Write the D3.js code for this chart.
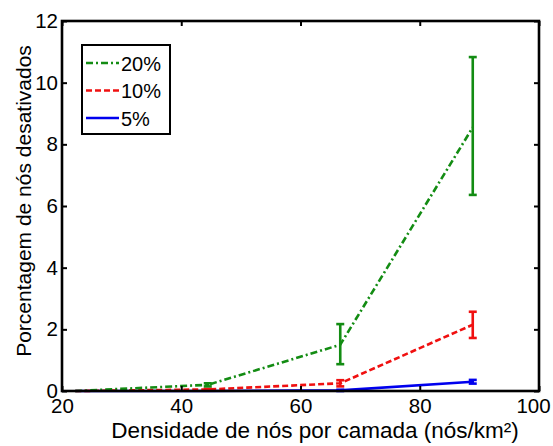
<!DOCTYPE html>
<html>
<head>
<meta charset="utf-8">
<script src="https://cdn.jsdelivr.net/npm/d3@7"></script>
<style>
  html, body { margin: 0; padding: 0; background: #fff; }
  svg text { font-family: Arial, "Liberation Sans", sans-serif; }
</style>
</head>
<body>
<svg id="chart" width="553" height="446"></svg>
<script>
// Node densities per layer (nodes/km²)
const densities = [200/9, 400/9, 600/9, 800/9];

// Share of deactivated nodes (%), mean with lower/upper bounds
const mean20 = [0.0, 0.2, 1.5, 8.55];
const low20  = [0.0, 0.15, 0.87, 6.36];
const high20 = [0.0, 0.25, 2.17, 10.83];

const mean10 = [0.0, 0.05, 0.25, 2.15];
const low10  = [0.0, 0.03, 0.15, 1.72];
const high10 = [0.0, 0.07, 0.35, 2.57];

const mean5  = [0.0, 0.0, 0.02, 0.3];
const low5   = [0.0, 0.0, 0.0, 0.24];
const high5  = [0.0, 0.0, 0.04, 0.36];

const xTicks = [20, 40, 60, 80, 100];
const yTicks = [0, 2, 4, 6, 8, 10, 12];

const seriesNames = ["20%", "10%", "5%"];
const seriesColors = ["#138c13", "#f01010", "#0000ee"];
const seriesDash = ["7,3,2,3", "6,3", null];

const series = [
  { name: seriesNames[0], mean: mean20, low: low20, high: high20, color: seriesColors[0], dash: seriesDash[0] },
  { name: seriesNames[1], mean: mean10, low: low10, high: high10, color: seriesColors[1], dash: seriesDash[1] },
  { name: seriesNames[2], mean: mean5,  low: low5,  high: high5,  color: seriesColors[2], dash: seriesDash[2] }
];

const svg = d3.select("#chart");
const margin = { left: 62, right: 14, top: 21, bottom: 55 };
const W = 553, H = 446;

const x = d3.scaleLinear().domain([20, 100]).range([margin.left, W - margin.right]);
const y = d3.scaleLinear().domain([0, 12]).range([H - margin.bottom, margin.top]);

const plot = svg.append("g");

// Lines (drawn back to front: 5%, 10%, 20%)
const line = d3.line().x((d, i) => x(densities[i])).y(d => y(d));
series.slice().reverse().forEach(s => {
  plot.append("path")
    .datum(s.mean)
    .attr("d", line)
    .attr("fill", "none")
    .attr("stroke", s.color)
    .attr("stroke-width", 2.6)
    .attr("stroke-dasharray", s.dash);

  // Error bars
  s.mean.forEach((m, i) => {
    if (s.high[i] - s.low[i] <= 0) return;
    const cx = x(densities[i]);
    const g = plot.append("g").attr("stroke", s.color).attr("stroke-width", 2.6);
    g.append("line").attr("x1", cx).attr("x2", cx).attr("y1", y(s.low[i])).attr("y2", y(s.high[i]));
    g.append("line").attr("x1", cx - 4).attr("x2", cx + 4).attr("y1", y(s.low[i])).attr("y2", y(s.low[i]));
    g.append("line").attr("x1", cx - 4).attr("x2", cx + 4).attr("y1", y(s.high[i])).attr("y2", y(s.high[i]));
  });
});

// Axes with inward ticks on all four sides
const tickLen = 5;
const axisBottom = d3.axisBottom(x).tickValues(xTicks).tickSizeInner(-tickLen).tickSizeOuter(0).tickPadding(7);
const axisLeft = d3.axisLeft(y).tickValues(yTicks).tickSizeInner(-tickLen).tickSizeOuter(0).tickPadding(4);
const axisTop = d3.axisTop(x).tickValues(xTicks).tickSizeInner(-tickLen).tickSizeOuter(0).tickFormat("");
const axisRight = d3.axisRight(y).tickValues(yTicks).tickSizeInner(-tickLen).tickSizeOuter(0).tickFormat("");

function styleAxis(g) {
  g.attr("font-family", null).attr("font-size", null);
  g.select(".domain").remove();
  g.selectAll(".tick line").attr("stroke", "#000").attr("stroke-width", 2);
  g.selectAll(".tick text").attr("font-size", 20.5).attr("fill", "#000");
}

const gx = svg.append("g").attr("transform", `translate(0,${y(0)})`).call(axisBottom).call(styleAxis);
// keep the last label inside the canvas
gx.selectAll(".tick text").filter(d => d === 100).attr("dx", -6);
svg.append("g").attr("transform", `translate(${x(20)},0)`).call(axisLeft).call(styleAxis);
svg.append("g").attr("transform", `translate(0,${y(12)})`).call(axisTop).call(styleAxis);
svg.append("g").attr("transform", `translate(${x(100)},0)`).call(axisRight).call(styleAxis);

// Frame
svg.append("rect")
  .attr("x", x(20)).attr("y", y(12))
  .attr("width", x(100) - x(20)).attr("height", y(0) - y(12))
  .attr("fill", "none").attr("stroke", "#000").attr("stroke-width", 2.6);

// Axis titles
svg.append("text")
  .attr("x", 315).attr("y", 438)
  .attr("text-anchor", "middle").attr("font-size", 22.5)
  .text("Densidade de nós por camada (nós/km²)");

svg.append("text")
  .attr("transform", `translate(31,${(y(0) + y(12)) / 2 - 5}) rotate(-90)`)
  .attr("text-anchor", "middle").attr("font-size", 21)
  .text("Porcentagem de nós desativados");

// Legend
const legend = svg.append("g").attr("transform", "translate(82,45)");
legend.append("rect").attr("width", 88).attr("height", 89)
  .attr("fill", "#fff").attr("stroke", "#000").attr("stroke-width", 2);
series.forEach((s, i) => {
  const ly = 18 + i * 27.5;
  legend.append("line")
    .attr("x1", 4).attr("x2", 37).attr("y1", ly).attr("y2", ly)
    .attr("stroke", s.color).attr("stroke-width", 2.6)
    .attr("stroke-dasharray", s.dash);
  legend.append("text")
    .attr("x", 39).attr("y", ly + 7.5)
    .attr("font-size", 20).text(s.name);
});
</script>
</body>
</html>
